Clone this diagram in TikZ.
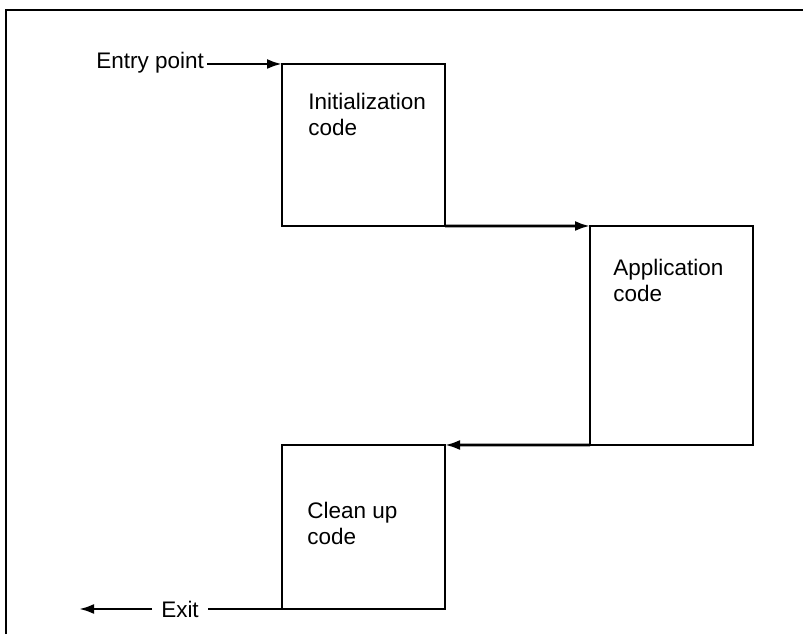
\documentclass[tikz,border=0pt]{standalone}
\usepackage{fontspec}
\setmainfont{Liberation Sans}
\usepackage{tikz}
\usetikzlibrary{arrows.meta, positioning, calc}

\begin{document}
\begin{tikzpicture}[>={Latex[length=3mm, width=2mm]},
  line width=1.5pt,
  codebox/.style={draw, minimum width=3.26cm, inner sep=0pt, outer sep=0pt},
  boxtext/.style={anchor=north west, align=left, inner sep=0pt,
    font=\fontsize{12.8}{14.8}\selectfont},
  lbl/.style={font=\fontsize{12.8}{14.8}\selectfont}]

  \useasboundingbox (0,0) rectangle (16.06,12.68);

  % --- frame (cut off at right and bottom) ---
  \draw (0.12,0) -- (0.12,12.48) -- (16.06,12.48);

  % --- code blocks ---
  \node[codebox, minimum height=3.24cm] (init) at (7.27,9.78) {};
  \node[codebox, minimum height=4.38cm] (app) at (13.43,5.97) {};
  \node[codebox, minimum height=3.28cm] (clean) at (7.27,2.14) {};

  \node[boxtext] (initText) at ($(init.north west)+(0.5,-0.56)$)
    {Initialization\\code};
  \node[boxtext] (appText) at ($(app.north west)+(0.44,-0.64)$)
    {Application\\code};
  \node[boxtext] (cleanText) at ($(clean.north west)+(0.48,-1.12)$)
    {Clean up\\code};

  % --- entry and exit ---
  \node[lbl, anchor=mid east, inner sep=1pt] (entry)
    at ($(init.north west)+(-1.5,0)$) {Entry point};
  \node[lbl, inner sep=4.5pt] (exit)
    at ($(clean.south west)+(-2.04,0)$) {Exit};
  \coordinate (exitEnd) at ($(clean.south west)+(-4.06,0)$);

  % --- flow ---
  \draw[->] (entry.mid east) -- (init.north west);
  \draw[->] (init.south east) -- (app.north west);
  \draw[->] (app.south west) -- (clean.north east);
  \draw (clean.south west) -- (exit.east);
  \draw[->] (exit.west) -- (exitEnd);

\end{tikzpicture}
\end{document}
